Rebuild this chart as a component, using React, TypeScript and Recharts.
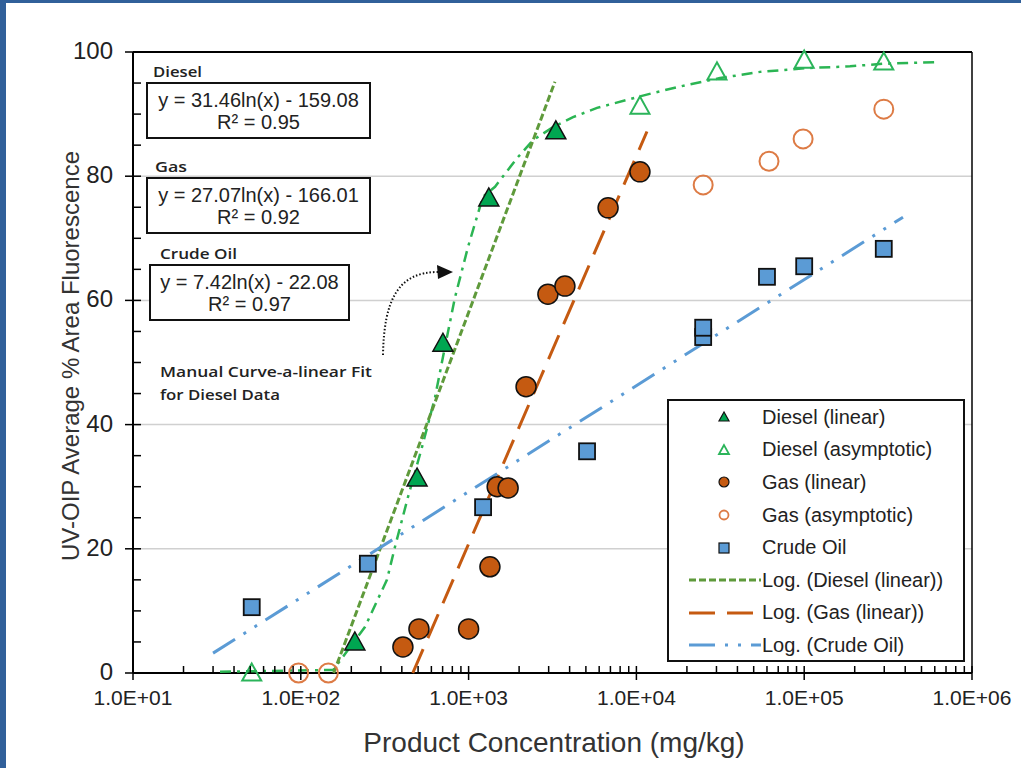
import React from "react";
import { ScatterChart, Scatter, XAxis, YAxis, ReferenceLine, Legend } from "recharts";

// measured points (x = mg/kg, y = % area)
const dieselLinearX = [210, 493, 703, 1320, 3310];
const dieselLinearY = [5.0, 31.4, 53.1, 76.5, 87.3];

const dieselAsymX = [51, 10500, 30200, 100000, 298000];
const dieselAsymY = [0, 91.3, 96.8, 98.7, 98.4];

const gasLinearX = [406, 506, 1000, 1340, 1480, 1720, 2200, 2970, 3750, 6780, 10500];
const gasLinearY = [4.2, 7.1, 7.1, 17.1, 30.0, 29.8, 46.1, 61.0, 62.3, 74.9, 80.7];

const gasAsymX = [97, 146, 25000, 61700, 98500, 298000];
const gasAsymY = [0, 0, 78.6, 82.4, 86.0, 90.8];

const crudeX = [51, 251, 1220, 5080, 25000, 25000, 60000, 100000, 298000];
const crudeY = [10.6, 17.6, 26.7, 35.7, 54.1, 55.6, 63.8, 65.5, 68.3];

// log trendlines (straight on a log axis), ends
const dieselFitX = [157, 3270];
const dieselFitY = [0, 95.2];
const gasFitX = [465, 11560];
const gasFitY = [0, 87.2];
const crudeFitX = [30, 388000];
const crudeFitY = [3.2, 73.4];

// hand drawn curve-a-linear fit for diesel
const dieselCurveX = [33, 156, 241, 326, 364, 435, 528, 631, 723, 830, 992, 1218, 1437, 1943, 2420, 3184, 4190, 5826, 8790, 12560, 20020, 31500, 54530, 103900, 187500, 294900, 644700];
const dieselCurveY = [0.2, 0.5, 7.4, 15.0, 20.3, 28.3, 36.4, 44.4, 52.5, 60.5, 68.6, 76.7, 78.3, 82.9, 85.8, 87.9, 89.5, 91.0, 92.3, 93.4, 94.7, 95.8, 96.8, 97.4, 97.7, 98.1, 98.4];

const decades = [10, 100, 1000, 10000, 100000];
const majorX = [10, 100, 1000, 10000, 100000, 1000000];
const xTicks = [...decades.flatMap((d) => [1, 2, 3, 4, 5, 6, 7, 8, 9].map((m) => d * m)), 1000000];
const yTicks = [0, 5, 10, 15, 20, 25, 30, 35, 40, 45, 50, 55, 60, 65, 70, 75, 80, 85, 90, 95, 100];
const gridValues = [20, 40, 60, 80];

const zip = (xs: number[], ys: number[]) => xs.map((x, i) => ({ x, y: ys[i] }));

const FONT = "'Liberation Sans', Arial, sans-serif";
const SMALL_FONT = "'Open Sans', 'Noto Sans', sans-serif";
const TEXT = "#222";

const C = {
  dieselFill: "#00a651",
  dieselHollow: "#2bb45a",
  gasFill: "#c55a11",
  gasHollow: "#dd7b45",
  crude: "#5b9bd5",
  dieselFit: "#5f9a3b",
  curve: "#2bb553",
  frame: "#31609a",
};

const isMajor = (v: number) => majorX.some((m) => Math.abs(m - v) < 1e-6);
const fmtExp = (v: number) => "1.0E+" + String(Math.round(Math.log10(v))).padStart(2, "0");

const XTick = (props: any) => {
  const { x, y, payload } = props;
  const major = isMajor(payload.value);
  return (
    <g>
      <line x1={x} x2={x} y1={y - 7} y2={major ? y + 7 : y} stroke="#000" strokeWidth={1.5} />
      {major && (
        <text x={x} y={y + 32} textAnchor="middle" fontSize={21} fill={TEXT} fontFamily={FONT}>
          {fmtExp(payload.value)}
        </text>
      )}
    </g>
  );
};

const YTick = (props: any) => {
  const { x, y, payload } = props;
  const major = payload.value % 20 === 0;
  return (
    <g>
      <line x1={major ? x - 8 : x} x2={x + 8} y1={y} y2={y} stroke="#000" strokeWidth={1.5} />
      {major && (
        <text x={x - 20} y={y + 7} textAnchor="end" fontSize={24} fill={TEXT} fontFamily={FONT}>
          {payload.value}
        </text>
      )}
    </g>
  );
};

const tri = (cx: number, cy: number, s: number) =>
  `${cx},${cy - s} ${cx - s},${cy + s * 0.8} ${cx + s},${cy + s * 0.8}`;

const FilledTriangle = (p: any) => (
  <polygon points={tri(p.cx, p.cy, 10)} fill={C.dieselFill} stroke="#111" strokeWidth={1.5} />
);
const HollowTriangle = (p: any) => (
  <polygon points={tri(p.cx, p.cy, 9.5)} fill="none" stroke={C.dieselHollow} strokeWidth={2} />
);
const FilledCircle = (p: any) => (
  <circle cx={p.cx} cy={p.cy} r={10} fill={C.gasFill} stroke="#111" strokeWidth={1.5} />
);
const HollowCircle = (p: any) => (
  <circle cx={p.cx} cy={p.cy} r={9.5} fill="none" stroke={C.gasHollow} strokeWidth={2} />
);
const Square = (p: any) => (
  <rect x={p.cx - 8} y={p.cy - 8} width={16} height={16} fill={C.crude} stroke="#111" strokeWidth={1.8} />
);
const NoMark = () => <g />;

const legendItems = [
  { label: "Diesel (linear)", kind: "tri" },
  { label: "Diesel (asymptotic)", kind: "triHollow" },
  { label: "Gas (linear)", kind: "circle" },
  { label: "Gas (asymptotic)", kind: "circleHollow" },
  { label: "Crude Oil", kind: "square" },
  { label: "Log. (Diesel (linear))", kind: "line", color: C.dieselFit, dash: "7 3" },
  { label: "Log. (Gas (linear))", kind: "line", color: C.gasFill, dash: "26 12" },
  { label: "Log. (Crude Oil)", kind: "line", color: C.crude, dash: "26 10 3 10 3 10" },
];

const LegendIcon = ({ item }: any) => {
  const cx = 55;
  const cy = 16;
  if (item.kind === "tri") return <polygon points={tri(cx, cy, 5)} fill={C.dieselFill} stroke="#111" strokeWidth={1.2} />;
  if (item.kind === "triHollow") return <polygon points={tri(cx, cy, 5)} fill="none" stroke={C.dieselHollow} strokeWidth={1.8} />;
  if (item.kind === "circle") return <circle cx={cx} cy={cy} r={5} fill={C.gasFill} stroke="#111" strokeWidth={1.2} />;
  if (item.kind === "circleHollow") return <circle cx={cx} cy={cy} r={4.5} fill="none" stroke={C.gasHollow} strokeWidth={1.8} />;
  if (item.kind === "square") return <rect x={cx - 5} y={cy - 5} width={10} height={10} fill={C.crude} stroke="#111" strokeWidth={1.2} />;
  return <line x1={20} x2={92} y1={cy} y2={cy} stroke={item.color} strokeWidth={3} strokeDasharray={item.dash} />;
};

const renderLegend = () => (
  <div
    style={{
      width: 298,
      height: 263,
      boxSizing: "border-box",
      border: "2px solid #111",
      background: "#fff",
      paddingTop: 0,
    }}
  >
    {legendItems.map((item) => (
      <div key={item.label} style={{ display: "flex", alignItems: "center", height: 32.6 }}>
        <svg width={93} height={32} style={{ flex: "none" }}>
          <LegendIcon item={item} />
        </svg>
        <span style={{ fontFamily: FONT, fontSize: 20, color: TEXT, whiteSpace: "nowrap" }}>{item.label}</span>
      </div>
    ))}
  </div>
);

const EqBox = ({ x, y, w, h, title, tx, tw, line1, line2 }: any) => (
  <g>
    <text x={tx} y={y - 6} fontSize={14} fontWeight={600} fill={TEXT} fontFamily={SMALL_FONT} textLength={tw} lengthAdjust="spacingAndGlyphs">
      {title}
    </text>
    <rect x={x} y={y} width={w} height={h} fill="#fff" stroke="#111" strokeWidth={2} />
    <text x={x + w / 2} y={y + 24} textAnchor="middle" fontSize={20} fill={TEXT} fontFamily={FONT}>
      {line1}
    </text>
    <text x={x + w / 2} y={y + 46} textAnchor="middle" fontSize={20} fill={TEXT} fontFamily={FONT}>
      {line2}
    </text>
  </g>
);

export default function App() {
  return (
    <div style={{ position: "absolute", left: 0, top: 0, width: 1021, height: 768, background: "#fff", overflow: "hidden" }}>
      <ScatterChart width={1021} height={768} margin={{ top: 52, right: 49, bottom: 35, left: 53 }}>
        <XAxis
          dataKey="x"
          type="number"
          scale="log"
          domain={[10, 1000000]}
          allowDataOverflow
          ticks={xTicks}
          interval={0}
          tick={XTick}
          tickLine={false}
          tickSize={0}
          tickMargin={0}
          height={60}
          axisLine={{ stroke: "#000", strokeWidth: 2 }}
        />
        <YAxis
          dataKey="y"
          type="number"
          domain={[0, 100]}
          ticks={yTicks}
          interval={0}
          tick={YTick}
          tickLine={false}
          tickSize={0}
          tickMargin={0}
          width={80}
          axisLine={{ stroke: "#000", strokeWidth: 2 }}
        />
        {gridValues.map((v) => (
          <ReferenceLine key={v} y={v} stroke="#d0d0d0" strokeWidth={1.5} />
        ))}
        <ReferenceLine y={100} stroke="#000" strokeWidth={2} />
        <ReferenceLine x={1000000} stroke="#000" strokeWidth={1.5} />

        <Scatter name="Curve" data={zip(dieselCurveX, dieselCurveY)} shape={NoMark} legendType="none" isAnimationActive={false}
          line={{ stroke: C.curve, strokeWidth: 2.5, strokeDasharray: "11 6 3 6" }} />
        <Scatter name="Log. (Diesel (linear))" data={zip(dieselFitX, dieselFitY)} shape={NoMark} isAnimationActive={false}
          line={{ stroke: C.dieselFit, strokeWidth: 3, strokeDasharray: "7 3" }} />
        <Scatter name="Log. (Gas (linear))" data={zip(gasFitX, gasFitY)} shape={NoMark} isAnimationActive={false}
          line={{ stroke: C.gasFill, strokeWidth: 3, strokeDasharray: "26 12" }} />
        <Scatter name="Log. (Crude Oil)" data={zip(crudeFitX, crudeFitY)} shape={NoMark} isAnimationActive={false}
          line={{ stroke: C.crude, strokeWidth: 3, strokeDasharray: "26 10 3 10 3 10" }} />

        <Scatter name="Diesel (asymptotic)" data={zip(dieselAsymX, dieselAsymY)} shape={HollowTriangle} isAnimationActive={false} />
        <Scatter name="Gas (asymptotic)" data={zip(gasAsymX, gasAsymY)} shape={HollowCircle} isAnimationActive={false} />
        <Scatter name="Crude Oil" data={zip(crudeX, crudeY)} shape={Square} isAnimationActive={false} />
        <Scatter name="Gas (linear)" data={zip(gasLinearX, gasLinearY)} shape={FilledCircle} isAnimationActive={false} />
        <Scatter name="Diesel (linear)" data={zip(dieselLinearX, dieselLinearY)} shape={FilledTriangle} isAnimationActive={false} />

        <Legend
          layout="horizontal"
          verticalAlign="middle"
          align="center"
          content={renderLegend}
          wrapperStyle={{ left: 667, top: 399, width: 298, height: 263 }}
        />
      </ScatterChart>

      <svg width={1021} height={768} style={{ position: "absolute", left: 0, top: 0, pointerEvents: "none" }}>
        <text x={70} y={356} transform="rotate(-90 70 356)" textAnchor="middle" dominantBaseline="central" fontSize={24} fill="#333" fontFamily={FONT}>
          UV-OIP Average % Area Fluorescence
        </text>
        <text x={554} y={752} textAnchor="middle" fontSize={28} fill="#333" fontFamily={FONT}>
          Product Concentration (mg/kg)
        </text>

        <EqBox x={147} y={83} w={223} h={55} title="Diesel" tx={153} tw={49}
          line1="y = 31.46ln(x) - 159.08" line2="R² = 0.95" />
        <EqBox x={147} y={178} w={223} h={55} title="Gas" tx={155} tw={32}
          line1="y = 27.07ln(x) - 166.01" line2="R² = 0.92" />
        <EqBox x={150} y={265} w={199} h={55} title="Crude Oil" tx={160} tw={77}
          line1="y = 7.42ln(x) - 22.08" line2="R² = 0.97" />

        <text x={160} y={377} fontSize={14} fontWeight={600} fill={TEXT} fontFamily={SMALL_FONT} textLength={212} lengthAdjust="spacingAndGlyphs">
          Manual Curve-a-linear Fit
        </text>
        <text x={160} y={400} fontSize={14} fontWeight={600} fill={TEXT} fontFamily={SMALL_FONT} textLength={120} lengthAdjust="spacingAndGlyphs">
          for Diesel Data
        </text>

        <path d="M383,355 C384,300 398,272 438,272" fill="none" stroke="#111" strokeWidth={2} strokeDasharray="1.5 2" />
        <polygon points="453,272 437,265 438,279" fill="#111" />
      </svg>

      <div style={{ position: "absolute", left: 0, top: 0, width: 6, height: 768, background: C.frame }} />
      <div style={{ position: "absolute", left: 0, top: 0, width: 1021, height: 3, background: C.frame }} />
    </div>
  );
}
